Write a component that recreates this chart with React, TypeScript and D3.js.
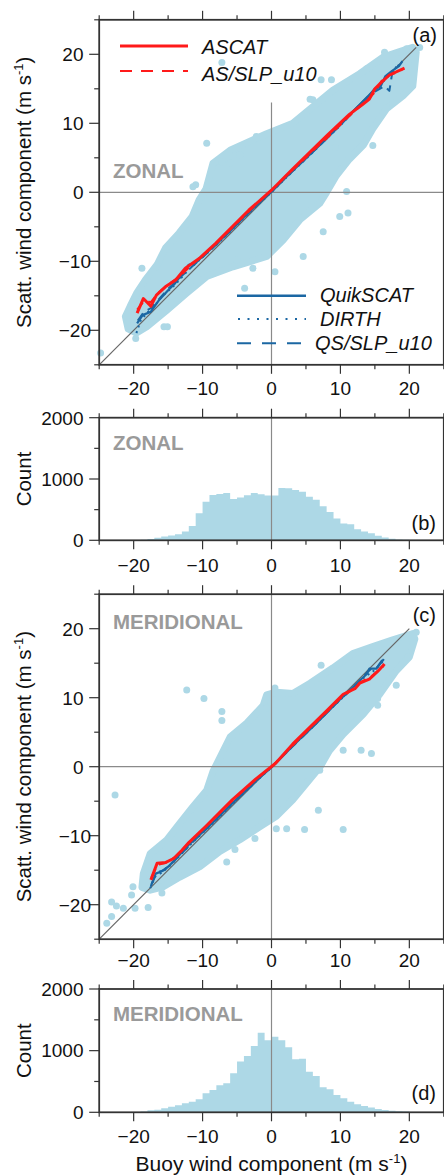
import React from 'react';
import * as d3 from 'd3';

type P = [number, number];

// ---------- tick values ----------
const xMajor = [-20, -10, 0, 10, 20];
const xMinor = [-25, -15, -5, 5, 15, 25];
const scatMajor = [-20, -10, 0, 10, 20];
const scatMinor = [-25, -15, -5, 5, 15, 25];
const cntMajor = [0, 1000, 2000];
const cntMinor = [500, 1500];

// ---------- histograms (1 m/s bins, left edges) ----------
const binLefts = [-25, -24, -23, -22, -21, -20, -19, -18, -17, -16, -15, -14, -13, -12, -11, -10, -9, -8, -7, -6, -5, -4, -3, -2, -1,
  0, 1, 2, 3, 4, 5, 6, 7, 8, 9, 10, 11, 12, 13, 14, 15, 16, 17, 18, 19, 20, 21, 22, 23, 24];
const zonalCounts = [0, 0, 0, 0, 2, 5, 10, 20, 40, 60, 80, 100, 145, 235, 440, 630, 740, 755, 770, 675, 700, 735, 770, 750, 730,
  730, 855, 850, 820, 790, 710, 660, 555, 460, 355, 275, 260, 180, 145, 115, 75, 45, 25, 15, 10, 5, 2, 0, 0, 0];
const meridCounts = [0, 0, 0, 0, 1, 5, 14, 32, 43, 65, 92, 113, 146, 173, 211, 308, 362, 438, 470, 632, 822, 914, 1076, 1290, 1170,
  1227, 1170, 1054, 859, 870, 659, 589, 405, 373, 281, 227, 173, 130, 103, 76, 54, 38, 27, 16, 11, 6, 3, 1, 0, 0];

// ---------- zonal scatter cloud ----------
const zonalUpper: P[] = [[-21.2, -18.0], [-20.5, -16.5], [-19.5, -14.5], [-18.3, -12.7], [-16.6, -10.5], [-15.4, -8.1], [-13.4, -5.9],
  [-11.5, -3.5], [-10.5, -1.1], [-9.5, 0.5], [-8.5, 4.2], [-6.0, 6.1], [-2.7, 7.6], [-0.7, 8.5], [3.1, 10.0], [6.0, 12.4],
  [8.9, 14.8], [12.8, 17.2], [16.2, 19.6], [18.6, 20.4], [20.5, 21.0]];
const zonalLower: P[] = [[21.0, 20.3], [20.5, 15.4], [19.1, 14.0], [16.7, 12.1], [14.7, 9.2], [13.3, 6.8], [11.3, 4.8], [9.4, 2.4],
  [8.0, 0.0], [7.0, -1.6], [4.1, -4.0], [1.7, -6.9], [-0.7, -9.3], [-5.6, -10.8], [-9.4, -12.2], [-12.3, -14.6],
  [-15.2, -17.1], [-18.1, -19.5], [-19.6, -20.4], [-20.8, -19.8]];
const zonalOutliers: P[] = [[-9.4, 7.1], [-7.2, 18.8], [-7.2, 4.4], [-6.0, 4.2], [-4.6, 5.4], [-2.2, 8.1], [6.0, 13.4], [7.2, 16.3],
  [8.7, 16.3], [16.4, 20.3], [19.6, 20.8], [21.5, 21.0], [13.8, 17.9], [5.6, 13.5], [10.9, 0.1], [9.2, 6.5], [14.7, 6.8],
  [16.7, 12.3], [9.9, -3.5], [11.1, -3.0], [7.5, -5.7], [4.6, -9.3], [0.5, -11.5], [-2.7, -11.0], [-3.9, -13.9],
  [-5.0, -9.8], [-15.6, -19.5], [-15.1, -19.5], [-19.7, -21.2], [-24.8, -23.3], [-18.8, -11.0], [-11.0, 1.1], [-11.4, 0.8]];

// ---------- meridional scatter cloud ----------
const meridUpper: P[] = [[-18.8, -17.5], [-18.6, -15.5], [-17.6, -12.6], [-15.2, -10.6], [-13.3, -8.2], [-11.4, -5.8], [-9.4, -3.4],
  [-8.5, -0.7], [-6.0, 4.3], [-3.6, 6.3], [-1.2, 8.9], [-0.7, 10.4], [0.7, 10.8], [3.1, 10.6], [5.6, 12.1], [8.9, 14.3],
  [11.8, 16.4], [14.7, 17.4], [17.6, 18.4], [20.5, 19.3]];
const meridLower: P[] = [[20.8, 18.5], [20.0, 15.9], [18.1, 13.9], [15.7, 10.5], [13.3, 7.6], [10.4, 4.7], [8.4, 2.3], [7.0, -0.1],
  [3.1, -4.8], [0.7, -7.2], [-1.7, -8.7], [-4.6, -10.6], [-7.5, -12.3], [-10.4, -14.5], [-13.3, -16.0], [-15.7, -17.4],
  [-17.6, -17.9]];
const meridOutliers: P[] = [[-12.3, 11.1], [-9.8, 9.9], [-7.2, 8.0], [-7.2, 6.7], [-0.7, 8.5], [0.5, 11.4], [7.2, 14.7], [18.1, 11.8],
  [15.4, 9.9], [15.4, 8.9], [14.5, 1.9], [13.0, 2.4], [10.4, 2.4], [17.1, 12.8], [19.8, 15.9], [21.0, 19.5], [7.0, -0.5],
  [-22.7, -4.1], [10.4, -9.1], [4.8, -9.1], [6.8, -6.3], [2.2, -9.0], [0.7, -9.0], [-2.4, -10.4], [-6.5, -13.8], [-5.3, -12.0],
  [-15.9, -18.3], [-17.9, -20.4], [-20.1, -17.4], [-20.3, -18.6], [-19.8, -20.5], [-21.5, -20.5], [-22.5, -20.2],
  [-23.2, -19.6], [-23.2, -21.7], [-23.9, -22.7]];

// ---------- binned-mean curves, zonal ----------
const ascatZ: P[] = [[-19.5, -17.5], [-18.6, -15.4], [-17.5, -16.5], [-16.7, -14.9], [-15.4, -13.7], [-13.9, -12.7], [-12.5, -11.0],
  [-10.5, -9.6], [-8.1, -7.4], [-5.7, -5.0], [-3.3, -2.6], [0.0, 0.3], [3.1, 3.4], [8.0, 8.2], [11.3, 11.3], [13.3, 12.8],
  [14.2, 13.5], [15.0, 15.0], [15.9, 15.9], [17.1, 17.0], [19.3, 18.0]];
const asSlpZ: P[] = [[-19.5, -17.0], [-18.5, -15.8], [-17.5, -15.9], [-16.5, -14.6], [-15.0, -13.4], [-13.0, -11.9], [-11.0, -10.0],
  [-9.0, -8.3], [-7.0, -6.4], [-5.0, -4.4], [-3.0, -2.5], [-1.0, -0.6], [0.0, 0.3], [2.0, 2.3], [4.0, 4.1], [6.0, 6.0],
  [8.0, 7.8], [10.0, 9.8], [12.0, 11.7], [13.5, 13.0], [15.0, 14.5], [16.0, 16.2], [17.0, 16.9], [18.0, 17.3], [19.0, 17.8]];
const quikZ: P[] = [[-19.5, -19.0], [-18.7, -17.8], [-17.5, -17.3], [-16.3, -15.6], [-15.0, -14.2], [-14.0, -13.2], [-13.0, -11.9],
  [-12.0, -10.5], [-11.0, -10.2], [-10.0, -9.3], [-8.0, -7.5], [-6.0, -5.6], [-4.0, -3.6], [-2.0, -1.7], [0.0, 0.1],
  [2.0, 2.1], [4.0, 4.0], [6.0, 5.9], [8.0, 7.8], [10.0, 9.8], [12.0, 11.9], [14.0, 13.9], [15.0, 15.0], [15.8, 15.3],
  [16.5, 16.8], [17.5, 17.6], [18.5, 18.3], [19.0, 19.0]];
const dirthZ: P[] = [[-19.6, -20.4], [-19.0, -18.6], [-18.0, -17.4], [-17.0, -16.5], [-16.0, -15.2], [-14.0, -13.4], [-12.0, -11.2],
  [-10.0, -9.4], [-8.0, -7.6], [-6.0, -5.7], [-4.0, -3.7], [-2.0, -1.8], [0.0, 0.0], [2.0, 2.0], [4.0, 3.9], [6.0, 5.8],
  [8.0, 7.8], [10.0, 9.7], [12.0, 11.8], [14.0, 13.8], [16.0, 15.8], [17.0, 16.9], [18.5, 18.6]];
const qsSlpZ: P[] = [[-19.4, -18.6], [-18.5, -17.3], [-17.5, -16.8], [-16.5, -15.7], [-15.0, -14.0], [-13.0, -12.1], [-11.0, -10.3],
  [-9.0, -8.5], [-7.0, -6.6], [-5.0, -4.6], [-3.0, -2.7], [-1.0, -0.8], [1.0, 1.1], [3.0, 3.0], [5.0, 4.9], [7.0, 6.8],
  [9.0, 8.8], [11.0, 10.8], [13.0, 12.9], [15.0, 14.6], [16.4, 15.4], [17.1, 14.7], [17.5, 17.2], [18.5, 18.5]];

// ---------- binned-mean curves, meridional ----------
const ascatM: P[] = [[-17.5, -16.4], [-16.6, -14.0], [-15.4, -13.9], [-14.2, -13.3], [-13.0, -12.1], [-12.0, -11.0], [-9.6, -8.7],
  [-5.7, -4.8], [-2.3, -1.8], [0.6, 0.5], [3.1, 3.3], [8.0, 8.1], [10.4, 10.5], [12.1, 11.3], [12.8, 12.1], [14.2, 12.7],
  [15.4, 13.8], [16.4, 14.9]];
const asSlpM: P[] = [[-17.4, -16.0], [-16.5, -14.2], [-15.5, -14.0], [-14.0, -13.1], [-12.0, -11.1], [-10.0, -9.1], [-8.0, -7.2],
  [-6.0, -5.2], [-4.0, -3.4], [-2.0, -1.6], [0.0, 0.0], [2.0, 2.0], [4.0, 4.0], [6.0, 6.0], [8.0, 7.9], [10.0, 9.9],
  [11.5, 11.0], [13.0, 12.3], [14.5, 13.1], [16.3, 14.6]];
const quikM: P[] = [[-17.5, -17.3], [-16.8, -15.5], [-16.0, -15.2], [-15.0, -14.5], [-14.0, -13.5], [-13.0, -12.4], [-12.0, -11.3],
  [-10.0, -9.5], [-8.0, -7.6], [-6.0, -5.6], [-4.0, -3.7], [-2.0, -1.8], [0.0, -0.1], [2.0, 1.9], [4.0, 3.9], [6.0, 5.8],
  [8.0, 7.8], [10.0, 9.8], [12.0, 11.7], [12.8, 12.5], [13.8, 13.4], [14.2, 14.2], [15.2, 14.2], [16.3, 15.6]];
const dirthM: P[] = [[-17.6, -17.6], [-16.8, -15.8], [-16.0, -15.4], [-15.0, -14.6], [-14.0, -13.6], [-12.0, -11.5], [-10.0, -9.6],
  [-8.0, -7.7], [-6.0, -5.7], [-4.0, -3.8], [-2.0, -1.9], [0.0, -0.1], [2.0, 1.9], [4.0, 3.9], [6.0, 5.8], [8.0, 7.8],
  [10.0, 9.7], [12.0, 11.6], [13.5, 13.0], [15.0, 14.0], [16.2, 15.3]];
const qsSlpM: P[] = [[-17.4, -17.0], [-16.6, -15.3], [-15.6, -15.0], [-14.5, -14.0], [-13.0, -12.5], [-11.0, -10.5], [-9.0, -8.6],
  [-7.0, -6.6], [-5.0, -4.7], [-3.0, -2.8], [-1.0, -0.9], [1.0, 0.9], [3.0, 2.9], [5.0, 4.8], [7.0, 6.8], [9.0, 8.8],
  [11.0, 10.7], [12.6, 12.2], [13.8, 13.6], [14.6, 14.3], [15.4, 14.5], [16.3, 15.8]];

// ---------- layout ----------
const W = 444;
const H = 1175;
const X0 = 99.2;
const X1 = 443.8;
const FONT = "'Liberation Sans', Arial, Helvetica, sans-serif";
const AXIS = '#333';
const ZERO = '#8a8a8a';
const DOT = '#add8e6';
const RED = '#ff1a1a';
const BLUE = '#1b67a3';
const GREY_LABEL = '#9a9a9a';

const x = d3.scaleLinear().domain([-25, 25]).range([X0, X1]);

const panels = {
  a: { top: 19.8, bottom: 364.8 },
  b: { top: 417.7, bottom: 540.3 },
  c: { top: 594.2, bottom: 939.2 },
  d: { top: 989.0, bottom: 1112.3 },
};

const fmt = (v: number) => (v < 0 ? '\u2212' + Math.abs(v) : String(v));

function Frame({ top, bottom, y, yMajor, yMinor, xLabelY }: any) {
  return (
    <g>
      <rect x={X0} y={top} width={X1 - X0} height={bottom - top} fill="none" stroke={AXIS} strokeWidth={1.8} />
      {xMajor.map((v) => (
        <g key={'xm' + v}>
          <line x1={x(v)} x2={x(v)} y1={bottom} y2={bottom + 9} stroke={AXIS} strokeWidth={1.2} />
          <line x1={x(v)} x2={x(v)} y1={top} y2={top - 9} stroke={AXIS} strokeWidth={1.2} />
          <text x={x(v)} y={xLabelY} textAnchor="middle" fontSize={19} fill="#111">{fmt(v)}</text>
        </g>
      ))}
      {xMinor.map((v) => (
        <g key={'xn' + v}>
          <line x1={x(v)} x2={x(v)} y1={bottom} y2={bottom + 4.5} stroke={AXIS} strokeWidth={1.2} />
          <line x1={x(v)} x2={x(v)} y1={top} y2={top - 4.5} stroke={AXIS} strokeWidth={1.2} />
        </g>
      ))}
      {yMajor.map((v: number) => (
        <g key={'ym' + v}>
          <line x1={X0} x2={X0 - 10} y1={y(v)} y2={y(v)} stroke={AXIS} strokeWidth={1.2} />
          <text x={v < 0 ? 91 : 83.5} y={y(v)} dy="0.36em" textAnchor="end" fontSize={19} fill="#111">{fmt(v)}</text>
        </g>
      ))}
      {yMinor.map((v: number) => (
        <line key={'yn' + v} x1={X0} x2={X0 - 5} y1={y(v)} y2={y(v)} stroke={AXIS} strokeWidth={1.2} />
      ))}
    </g>
  );
}

function Unit() {
  return (
    <>
      <tspan>(m s</tspan>
      <tspan dy="-8" fontSize={13}>-1</tspan>
      <tspan dy="8">)</tspan>
    </>
  );
}

function Scatter({ panel, upper, lower, outliers, curves, zeroVTop, diagEnd, children }: any) {
  const y = d3.scaleLinear().domain([-25, 25]).range([panel.bottom, panel.top]);
  const line = d3.line<P>().x((d) => x(d[0])).y((d) => y(d[1]));
  const cloud = line(upper.concat(lower)) + 'Z';
  return (
    <g>
      <path d={cloud} fill={DOT} stroke={DOT} strokeWidth={7} strokeLinejoin="round" />
      {outliers.map((d: P, i: number) => (
        <circle key={i} cx={x(d[0])} cy={y(d[1])} r={3.5} fill={DOT} />
      ))}
      <line x1={X0} x2={X1} y1={y(0)} y2={y(0)} stroke={ZERO} strokeWidth={1.2} />
      <line x1={x(0)} x2={x(0)} y1={y(-25)} y2={y(zeroVTop)} stroke={ZERO} strokeWidth={1.2} />
      <line x1={x(-25)} y1={y(-25)} x2={x(diagEnd)} y2={y(diagEnd)} stroke="#666" strokeWidth={1.2} />
      {curves.map((c: any, i: number) => (
        <path key={i} d={line(c.data) || ''} fill="none" stroke={c.color} strokeWidth={c.width}
          strokeDasharray={c.dash} strokeLinejoin="round" />
      ))}
      <Frame top={panel.top} bottom={panel.bottom} y={y} yMajor={scatMajor} yMinor={scatMinor}
        xLabelY={panel.xLabelY} />
      {children}
    </g>
  );
}

function Hist({ panel, counts }: any) {
  const y = d3.scaleLinear().domain([0, 2000]).range([panel.bottom, panel.top]);
  const pts: P[] = binLefts.map((b, i) => [b, counts[i]] as P);
  pts.push([binLefts[binLefts.length - 1] + 1, counts[counts.length - 1]]);
  const area = d3.area<P>().x((d) => x(d[0])).y0(y(0)).y1((d) => y(d[1])).curve(d3.curveStepAfter);
  return (
    <g>
      <path d={area(pts) || ''} fill={DOT} />
      <line x1={x(0)} x2={x(0)} y1={panel.top} y2={panel.bottom} stroke={ZERO} strokeWidth={1.2} />
      <Frame top={panel.top} bottom={panel.bottom} y={y} yMajor={cntMajor} yMinor={cntMinor} xLabelY={panel.xLabelY} />
    </g>
  );
}

export default function App() {
  const zonalCurves = [
    { data: dirthZ, color: BLUE, width: 2, dash: '2,4' },
    { data: qsSlpZ, color: BLUE, width: 2, dash: '9,6' },
    { data: quikZ, color: BLUE, width: 2.2 },
    { data: asSlpZ, color: RED, width: 2, dash: '9,6' },
    { data: ascatZ, color: RED, width: 3 },
  ];
  const meridCurves = [
    { data: dirthM, color: BLUE, width: 2, dash: '2,4' },
    { data: qsSlpM, color: BLUE, width: 2, dash: '9,6' },
    { data: quikM, color: BLUE, width: 2.2 },
    { data: asSlpM, color: RED, width: 2, dash: '9,6' },
    { data: ascatM, color: RED, width: 3 },
  ];
  const pa = { ...panels.a, xLabelY: 395 };
  const pb = { ...panels.b, xLabelY: 571.5 };
  const pc = { ...panels.c, xLabelY: 966.5 };
  const pd = { ...panels.d, xLabelY: 1143 };
  return (
    <svg width={W} height={H} viewBox={`0 0 ${W} ${H}`}
      style={{ position: 'absolute', left: 0, top: 0, background: '#fff' }} fontFamily={FONT}>
      <rect x={0} y={0} width={W} height={H} fill="#fff" />

      {/* (a) zonal scatter */}
      <Scatter panel={pa} upper={zonalUpper} lower={zonalLower} outliers={zonalOutliers} curves={zonalCurves}
        zeroVTop={13} diagEnd={21}>
        <text x={113} y={178} fontSize={20.5} fontWeight="bold" fill={GREY_LABEL}>ZONAL</text>
        <text x={437} y={41.5} fontSize={20} textAnchor="end" fill="#111">(a)</text>
        <line x1={120} x2={188} y1={46} y2={46} stroke={RED} strokeWidth={3} />
        <line x1={120} x2={188} y1={71} y2={71} stroke={RED} strokeWidth={2} strokeDasharray="12,9" />
        <text x={202} y={53.5} fontSize={20} fontStyle="italic" fill="#111">ASCAT</text>
        <text x={202} y={80.5} fontSize={20} fontStyle="italic" fill="#111">AS/SLP_u10</text>
        <line x1={237} x2={306} y1={295.7} y2={295.7} stroke={BLUE} strokeWidth={2.5} />
        <line x1={238} x2={306} y1={319} y2={319} stroke={BLUE} strokeWidth={2} strokeDasharray="2,7.5" />
        <line x1={237} x2={306} y1={343.3} y2={343.3} stroke={BLUE} strokeWidth={2} strokeDasharray="14,11" />
        <text x={320} y={302} fontSize={20} fontStyle="italic" fill="#111">QuikSCAT</text>
        <text x={320} y={326} fontSize={20} fontStyle="italic" fill="#111">DIRTH</text>
        <text x={315} y={350} fontSize={20} fontStyle="italic" fill="#111">QS/SLP_u10</text>
      </Scatter>
      <text transform={`translate(31,${(pa.top + pa.bottom) / 2}) rotate(-90)`} textAnchor="middle" fontSize={20.5} fill="#111">
        Scatt. wind component <Unit />
      </text>

      {/* (b) zonal histogram */}
      <Hist panel={pb} counts={zonalCounts} />
      <text x={113} y={450} fontSize={20.5} fontWeight="bold" fill={GREY_LABEL}>ZONAL</text>
      <text x={436} y={530} fontSize={20} textAnchor="end" fill="#111">(b)</text>
      <text transform={`translate(31,${(pb.top + pb.bottom) / 2}) rotate(-90)`} textAnchor="middle" fontSize={20.5} fill="#111">Count</text>

      {/* (c) meridional scatter */}
      <Scatter panel={pc} upper={meridUpper} lower={meridLower} outliers={meridOutliers} curves={meridCurves}
        zeroVTop={25} diagEnd={20}>
        <text x={113} y={629} fontSize={20.5} fontWeight="bold" fill={GREY_LABEL}>MERIDIONAL</text>
        <text x={436} y={622} fontSize={20} textAnchor="end" fill="#111">(c)</text>
      </Scatter>
      <text transform={`translate(31,${(pc.top + pc.bottom) / 2}) rotate(-90)`} textAnchor="middle" fontSize={20.5} fill="#111">
        Scatt. wind component <Unit />
      </text>

      {/* (d) meridional histogram */}
      <Hist panel={pd} counts={meridCounts} />
      <text x={113} y={1020.7} fontSize={20.5} fontWeight="bold" fill={GREY_LABEL}>MERIDIONAL</text>
      <text x={436} y={1100} fontSize={20} textAnchor="end" fill="#111">(d)</text>
      <text transform={`translate(31,${(pd.top + pd.bottom) / 2}) rotate(-90)`} textAnchor="middle" fontSize={20.5} fill="#111">Count</text>

      <text x={(X0 + X1) / 2} y={1171} textAnchor="middle" fontSize={21} fill="#111">
        Buoy wind component <Unit />
      </text>
    </svg>
  );
}
